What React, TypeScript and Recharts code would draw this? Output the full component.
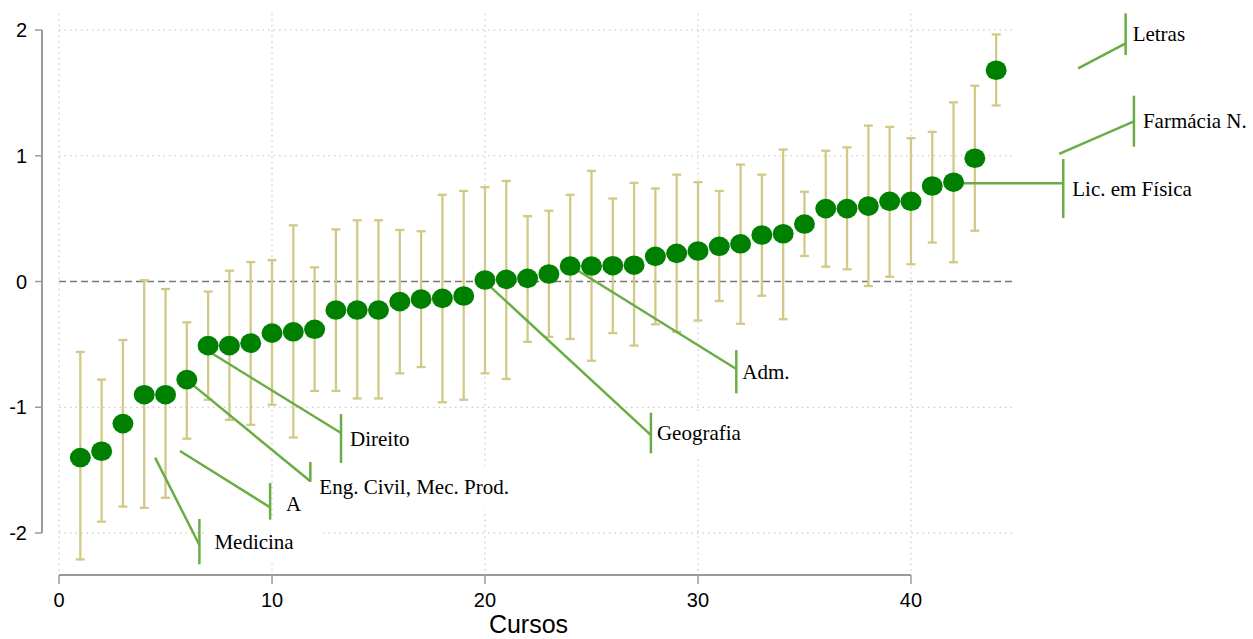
import { ComposedChart, ErrorBar, ReferenceDot, ReferenceLine, Scatter, XAxis, YAxis } from 'recharts';

// course effects, sorted (rank on x)
const estimates = [
  -1.4, -1.35, -1.13, -0.9, -0.9, -0.78, -0.51, -0.51, -0.49, -0.41, -0.4, -0.38, -0.227, -0.227, -0.227,
  -0.16, -0.14, -0.134, -0.115, 0.012, 0.017, 0.025, 0.06, 0.123, 0.123, 0.126, 0.13, 0.2, 0.224, 0.243,
  0.28, 0.3, 0.37, 0.38, 0.457, 0.58, 0.58, 0.6, 0.638, 0.638, 0.76, 0.79, 0.98, 1.68,
];
const lower = [
  -2.21, -1.91, -1.79, -1.8, -1.72, -1.25, -0.94, -1.1, -1.14, -0.98, -1.24, -0.87, -0.87, -0.93, -0.93,
  -0.73, -0.68, -0.96, -0.94, -0.73, -0.775, -0.48, -0.44, -0.457, -0.63, -0.41, -0.51, -0.34, -0.4, -0.31,
  -0.155, -0.336, -0.113, -0.3, 0.203, 0.118, 0.097, -0.036, 0.038, 0.137, 0.31, 0.153, 0.404, 1.4,
];
const upper = [
  -0.56, -0.78, -0.465, 0.01, -0.06, -0.325, -0.08, 0.086, 0.155, 0.17, 0.447, 0.113, 0.415, 0.487, 0.487,
  0.41, 0.4, 0.69, 0.72, 0.75, 0.8, 0.52, 0.563, 0.69, 0.88, 0.66, 0.785, 0.74, 0.85, 0.79,
  0.72, 0.93, 0.85, 1.05, 0.714, 1.04, 1.067, 1.24, 1.23, 1.14, 1.19, 1.425, 1.557, 1.965,
];

const xTicks = [0, 10, 20, 30, 40];
const yTicks = [-2, -1, 0, 1, 2];

// labelled courses: pointer line from -> to, then a vertical bar and the name
const annotLabels = ['Medicina', 'A', 'Eng. Civil, Mec. Prod.', 'Direito', 'Geografia', 'Adm.', 'Lic. em Física', 'Farmácia N.', 'Letras'];
const annotFromX = [4.51, 5.68, 6.12, 7.0, 20.13, 24.15, 42.19, 46.96, 47.85];
const annotFromY = [-1.401, -1.348, -0.8, -0.553, -0.022, 0.11, 0.781, 1.016, 1.695];
const annotToX = [6.59, 9.91, 11.8, 13.24, 27.79, 31.8, 47.15, 50.47, 50.08];
const annotToY = [-2.095, -1.796, -1.588, -1.205, -1.221, -0.696, 0.781, 1.274, 1.894];
const annotBarTop = [-1.889, -1.602, -1.435, -1.054, -1.043, -0.545, 0.974, 1.478, 2.133];
const annotBarBottom = [-2.249, -1.936, -1.841, -1.443, -1.366, -0.889, 0.505, 1.072, 1.801];

const X_DOMAIN: [number, number] = [-0.8, 56.06];
const Y_DOMAIN: [number, number] = [-2.334, 2.239];
const GRID_RIGHT = 44.88;
const GRID_TOP = 2.13;
const GRID_BOTTOM = -2.3;

const POINT = '#008000';
const CI = '#D2C987';
const POINTER = '#6AAD45';
const AXIS = '#9A9A9A';
const GRID = '#BDBDBD';
const LABEL_GAP: Record<string, number> = { Medicina: 15, A: 16, Geografia: 6, 'Adm.': 6, Letras: 7 };

const rows = estimates.map((y, i) => ({ x: i + 1, y, err: [y - lower[i], upper[i] - y] }));

const annotations = annotLabels.map((label, i) => ({
  label,
  from: { x: annotFromX[i], y: annotFromY[i] },
  to: { x: annotToX[i], y: annotToY[i] },
  barTop: annotBarTop[i],
  barBottom: annotBarBottom[i],
}));

const Dot = (props: any) => <ellipse cx={props.cx} cy={props.cy} rx={10.5} ry={9.8} fill={POINT} />;

const labelShape = (text: string) => (props: any) => {
  const gap = LABEL_GAP[text] ?? 9;
  return (
    <g>
      <rect x={props.cx + 6} y={props.cy - 22} width={text.length * 11 + 30} height={44} fill="#fff" />
      <text
        x={props.cx + gap}
        y={props.cy + 7}
        fontFamily="'Liberation Serif', 'Times New Roman', serif"
        fontSize={21}
        fill="#000"
      >
        {text}
      </text>
    </g>
  );
};

export default function App() {
  return (
    <div style={{ position: 'absolute', left: 0, top: 0, width: 1253, height: 639, background: '#fff' }}>
      <ComposedChart width={1253} height={639} margin={{ top: 0, right: 0, bottom: 0, left: 0 }}>
        <XAxis
          type="number"
          dataKey="x"
          domain={X_DOMAIN}
          allowDataOverflow
          ticks={xTicks}
          axisLine={false}
          tickLine={{ stroke: AXIS, strokeWidth: 1.5 }}
          tickSize={9}
          tickMargin={9}
          height={64}
          tick={{ fontSize: 20, fill: '#000', fontFamily: "'Liberation Sans', Arial, sans-serif" }}
          label={{
            content: () => (
              <text
                x={528.5}
                y={624}
                textAnchor="middle"
                dominantBaseline="central"
                fontSize={25}
                fontFamily="'Liberation Sans', Arial, sans-serif"
                fill="#000"
              >
                Cursos
              </text>
            ),
          }}
        />
        <YAxis
          type="number"
          dataKey="y"
          domain={Y_DOMAIN}
          allowDataOverflow
          ticks={yTicks}
          axisLine={false}
          tickLine={{ stroke: AXIS, strokeWidth: 1.5 }}
          tickSize={7}
          tickMargin={8}
          width={42}
          tick={{ fontSize: 20, fill: '#000', fontFamily: "'Liberation Sans', Arial, sans-serif" }}
        />

        {yTicks.map((t) => (
          <ReferenceLine
            key={`h${t}`}
            segment={[{ x: 0, y: t }, { x: GRID_RIGHT, y: t }]}
            stroke={GRID}
            strokeDasharray="1.5 4"
            ifOverflow="visible"
          />
        ))}
        {xTicks.map((t) => (
          <ReferenceLine
            key={`v${t}`}
            segment={[{ x: t, y: GRID_BOTTOM }, { x: t, y: GRID_TOP }]}
            stroke={GRID}
            strokeDasharray="1.5 4"
            ifOverflow="visible"
          />
        ))}
        <ReferenceLine
          segment={[{ x: 0, y: 0 }, { x: GRID_RIGHT, y: 0 }]}
          stroke="#777"
          strokeWidth={1.5}
          strokeDasharray="7 4"
          ifOverflow="visible"
        />
        <ReferenceLine
          segment={[{ x: X_DOMAIN[0], y: -2 }, { x: X_DOMAIN[0], y: 2 }]}
          stroke={AXIS}
          strokeWidth={2}
          ifOverflow="visible"
        />
        <ReferenceLine
          segment={[{ x: 0, y: Y_DOMAIN[0] }, { x: 40, y: Y_DOMAIN[0] }]}
          stroke={AXIS}
          strokeWidth={2}
          ifOverflow="visible"
        />

        <Scatter data={rows} shape={Dot} isAnimationActive={false}>
          <ErrorBar dataKey="err" direction="y" width={4.5} stroke={CI} strokeWidth={2.3} />
        </Scatter>

        {annotations.map((a) => (
          <ReferenceLine
            key={`p${a.label}`}
            segment={[a.from, a.to]}
            stroke={POINTER}
            strokeWidth={2.5}
            ifOverflow="visible"
          />
        ))}
        {annotations.map((a) => (
          <ReferenceDot
            key={`t${a.label}`}
            x={a.to.x}
            y={(a.barTop + a.barBottom) / 2}
            r={0}
            ifOverflow="visible"
            shape={labelShape(a.label)}
          />
        ))}
        {annotations.map((a) => (
          <ReferenceLine
            key={`b${a.label}`}
            segment={[{ x: a.to.x, y: a.barTop }, { x: a.to.x, y: a.barBottom }]}
            stroke={POINTER}
            strokeWidth={2.5}
            ifOverflow="visible"
          />
        ))}
      </ComposedChart>
    </div>
  );
}
